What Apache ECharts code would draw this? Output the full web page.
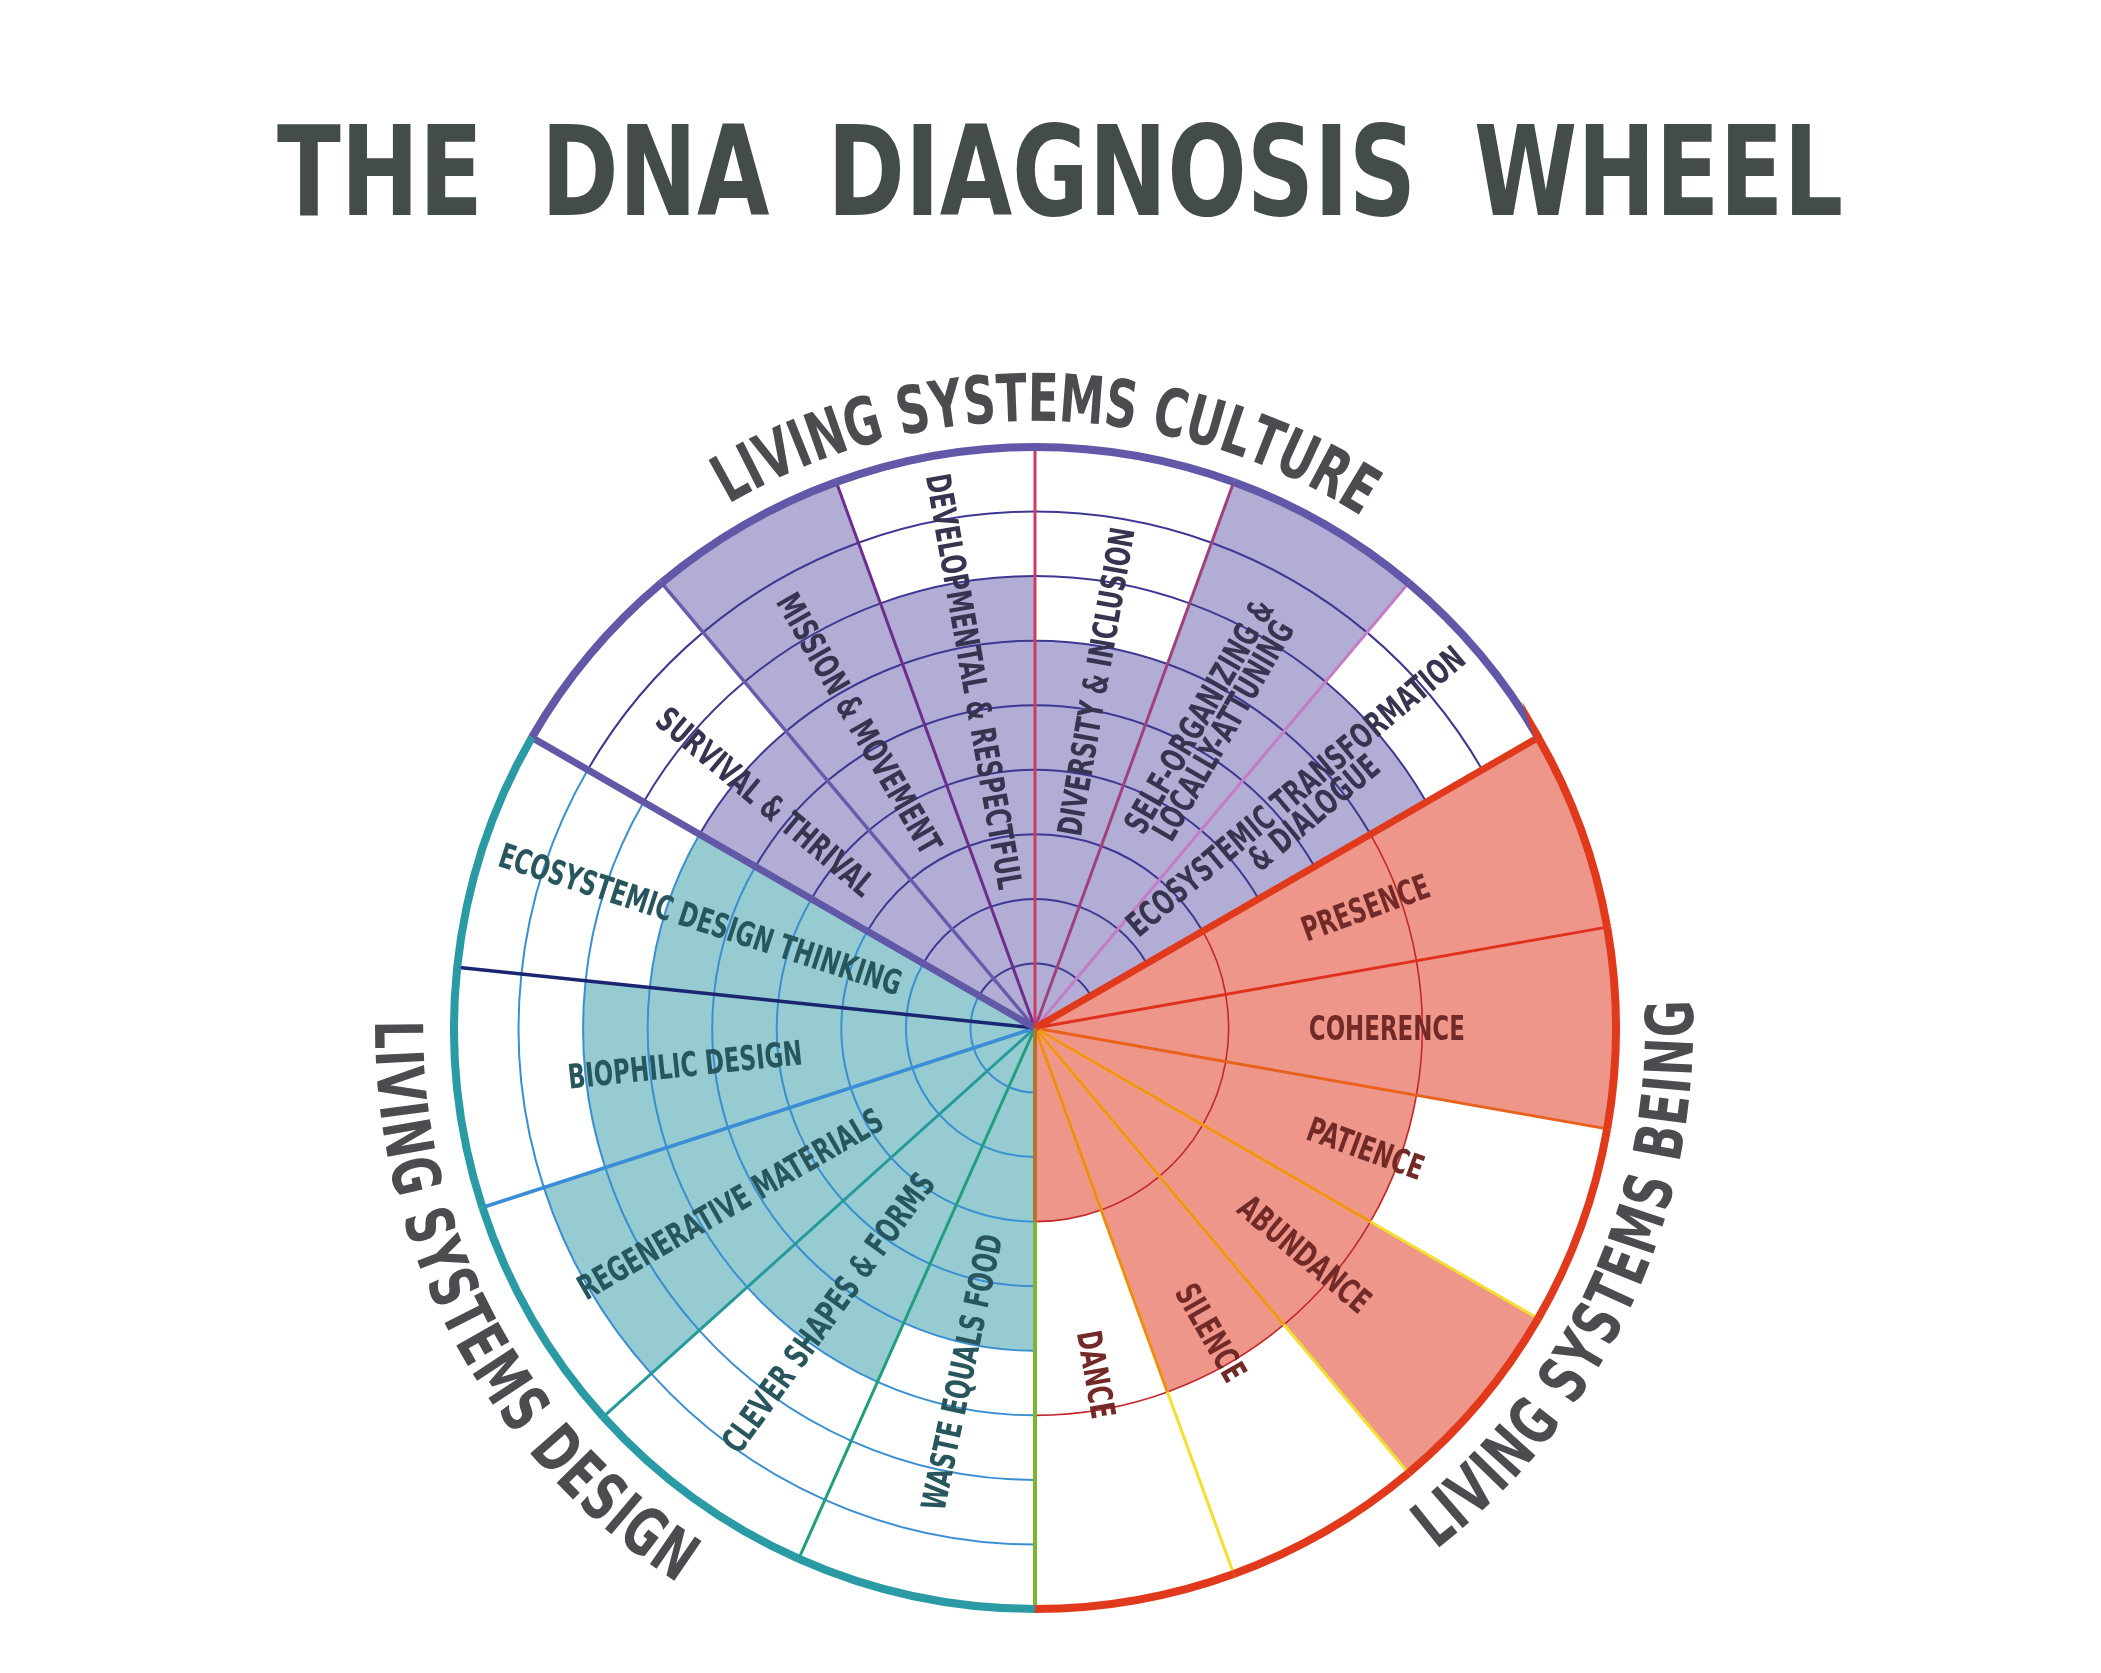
<!DOCTYPE html>
<html>
<head>
<meta charset="utf-8">
<title>The DNA Diagnosis Wheel</title>
<script src="https://cdn.jsdelivr.net/npm/echarts@6/dist/echarts.min.js"></script>
<style>
  html, body { margin: 0; padding: 0; background: #fff; }
  #chart { width: 2101px; height: 1673px; }
</style>
</head>
<body>
<div id="chart"></div>
<script>
const chartTitle = 'THE DNA DIAGNOSIS WHEEL';
const sectionNames = ['LIVING SYSTEMS CULTURE', 'LIVING SYSTEMS BEING', 'LIVING SYSTEMS DESIGN'];

// every list runs clockwise round the wheel
const cultureItems = [
  'SURVIVAL & THRIVAL',
  'MISSION & MOVEMENT',
  'DEVELOPMENTAL & RESPECTFUL',
  'DIVERSITY & INCLUSION',
  'SELF-ORGANIZING &\nLOCALLY-ATTUNING',
  'ECOSYSTEMIC TRANSFORMATION\n& DIALOGUE',
];
const cultureScores = [6, 9, 7, 6, 9, 7];

const beingItems = ['PRESENCE', 'COHERENCE', 'PATIENCE', 'ABUNDANCE', 'SILENCE', 'DANCE'];
const beingScores = [9, 9, 6, 9, 6, 3];

const designItems = [
  'WASTE EQUALS FOOD',
  'CLEVER SHAPES & FORMS',
  'REGENERATIVE MATERIALS',
  'BIOPHILIC DESIGN',
  'ECOSYSTEMIC DESIGN THINKING',
];
const designScores = [5, 6, 8, 7, 6];

const sectionStart = [150, 30, -90]; // angle where each section begins (deg, going clockwise)
const sectionSpan = 120;
const maxScore = 9;

// look
const sectionStyles = [
  {
    fill: '#b1add4', ring: '#3d3892', ringStep: 1, ringWidth: 2, rim: '#6158a8', text: '#36344f',
    edges: [
      { c: '#6158a8', w: 7 }, { c: '#6a5aad', w: 3.5 }, { c: '#6d2d8e', w: 3 },
      { c: '#d03a5e', w: 3 }, { c: '#a0417c', w: 3 }, { c: '#c57cc6', w: 3 },
    ],
  },
  {
    fill: '#ee968a', ring: '#c2282a', ringStep: 3, ringWidth: 1.6, rim: '#e0391c', text: '#722a28',
    edges: [
      { c: '#e0391c', w: 7 }, { c: '#e0301e', w: 3 }, { c: '#e8621c', w: 3 },
      { c: '#f3df2c', w: 3, inner: '#f0921c', innerTo: 6 },
      { c: '#f3df2c', w: 3, inner: '#f0921c', innerTo: 6 },
      { c: '#f3df2c', w: 3, inner: '#ef8a1a', innerTo: 6 },
    ],
  },
  {
    fill: '#96cbd2', ring: '#3a8fd2', ringStep: 1, ringWidth: 2, rim: '#2a9aa4', text: '#28565d',
    edges: [
      { c: '#7cb434', w: 4, inner: '#b5722c', innerTo: 3 }, { c: '#1f9f7c', w: 3 },
      { c: '#249a9a', w: 3 }, { c: '#3b8ed6', w: 3.5 }, { c: '#1b2670', w: 3.5 },
    ],
  },
];
const labelAt = 5.45;

function pickFamily(list) {
  const c = document.createElement('canvas').getContext('2d');
  const probe = 'WHEEL DIAGNOSIS 0123';
  c.font = 'bold 40px monospace';
  const base = c.measureText(probe).width;
  for (const f of list) {
    c.font = `bold 40px "${f}", monospace`;
    if (Math.abs(c.measureText(probe).width - base) > 0.5) return f;
  }
  return 'sans-serif';
}
const family = pickFamily(['Liberation Sans Narrow', 'DejaVu Sans Condensed', 'DejaVu Sans', 'Liberation Sans']);
const measureCtx = document.createElement('canvas').getContext('2d');
function textWidth(str, font) {
  measureCtx.font = font;
  return measureCtx.measureText(str).width;
}

// hand-lettering in the picture is narrow: squeeze the glyphs sideways
const labelSize = 34;
const labelFont = `bold ${labelSize}px "${family}"`;
const labelSqueeze = 156 / textWidth('COHERENCE', labelFont);
const sectionFont = `bold 66px "${family}"`;
const sectionSqueeze = 237 / textWidth('SYSTEMS', sectionFont);
const titleFont = `bold 125px "${family}"`;

// zrender's "middle" sits a little above the cap centre
const lift = (size) => 0.088 * size;

const norm = (a) => ((a % 360) + 360) % 360;

const sections = [
  { items: cultureItems, scores: cultureScores },
  { items: beingItems, scores: beingScores },
  { items: designItems, scores: designScores },
];
const segmentRows = [];
const segmentNames = [];
sections.forEach((sec, s) => {
  const step = sectionSpan / sec.items.length;
  sec.items.forEach((name, i) => {
    const a0 = sectionStart[s] - i * step;
    const a1 = a0 - step;
    segmentRows.push([sec.scores[i], norm(a0 - step / 2), a0, a1, s, i]);
    segmentNames.push(name);
  });
});

function renderSegment(params, api) {
  const score = api.value(0);
  const mid = api.value(1);
  const a0 = api.value(2);
  const a1 = api.value(3);
  const s = api.value(4);
  const i = api.value(5);
  const st = sectionStyles[s];
  const cx = params.coordSys.cx;
  const cy = params.coordSys.cy;
  const pt = (r, a) => api.coord([r, norm(a)]);
  const radiusOf = (r) => {
    const p = pt(r, mid);
    return Math.hypot(p[0] - cx, p[1] - cy);
  };
  const angleOf = (a) => {
    const p = pt(maxScore, a);
    return Math.atan2(p[1] - cy, p[0] - cx);
  };
  const sa = angleOf(a0);
  let ea = angleOf(a1);
  if (ea <= sa) ea += Math.PI * 2;
  const R = radiusOf(maxScore);
  const children = [];

  children.push({
    type: 'sector', z2: 1,
    shape: { cx, cy, r0: 0, r: radiusOf(score), startAngle: sa, endAngle: ea, clockwise: true },
    style: { fill: st.fill },
  });
  for (let k = st.ringStep; k < maxScore; k += st.ringStep) {
    children.push({
      type: 'arc', z2: 2,
      shape: { cx, cy, r: radiusOf(k), startAngle: sa, endAngle: ea, clockwise: true },
      style: { stroke: st.ring, lineWidth: st.ringWidth, fill: null },
    });
  }
  const e = st.edges[i];
  const pe = pt(maxScore, a0);
  children.push({
    type: 'line', z2: i === 0 ? 5 : 3,
    shape: { x1: cx, y1: cy, x2: pe[0], y2: pe[1] },
    style: { stroke: e.c, lineWidth: e.w },
  });
  if (e.inner) {
    const pi = pt(e.innerTo, a0);
    children.push({
      type: 'line', z2: i === 0 ? 5.5 : 4,
      shape: { x1: cx, y1: cy, x2: pi[0], y2: pi[1] },
      style: { stroke: e.inner, lineWidth: e.w },
    });
  }
  children.push({
    type: 'arc', z2: 6,
    shape: { cx, cy, r: R, startAngle: sa, endAngle: ea, clockwise: true },
    style: { stroke: st.rim, lineWidth: 8, fill: null },
  });

  const lp = pt(labelAt, mid);
  const rot = ((mid > 90 && mid < 270 ? mid - 180 : mid >= 270 ? mid - 360 : mid) * Math.PI) / 180;
  const d = lift(labelSize);
  children.push({
    type: 'text', z2: 7,
    x: lp[0] + d * Math.sin(rot), y: lp[1] + d * Math.cos(rot),
    rotation: rot, scaleX: labelSqueeze,
    style: {
      text: segmentNames[params.dataIndex],
      fill: st.text,
      font: labelFont,
      lineHeight: 28,
      align: 'center', verticalAlign: 'middle',
      textAlign: 'center', textVerticalAlign: 'middle',
    },
  });
  return { type: 'group', children };
}

// wheel geometry on the page
const wheelCenter = [1035, 1028];
const wheelRadius = 581;

// letters of a section name set along the rim
function arcLetters(str, fromDeg, toDeg, radius, font, size, squeeze, color) {
  const ccw = toDeg > fromDeg;
  const chars = str.split('');
  const widths = chars.map((ch) => textWidth(ch, font) * squeeze);
  const total = widths.reduce((a, b) => a + b, 0);
  const arcLen = (Math.abs(toDeg - fromDeg) * Math.PI / 180) * radius;
  const gap = (arcLen - total) / (chars.length - 1);
  const out = [];
  let run = 0;
  chars.forEach((ch, k) => {
    const s = run + widths[k] / 2;
    run += widths[k] + gap;
    const a = (fromDeg * Math.PI) / 180 + (ccw ? 1 : -1) * (s / radius);
    if (ch === ' ') return;
    const rot = ccw ? a + Math.PI / 2 : a - Math.PI / 2;
    const d = lift(size);
    out.push({
      type: 'text',
      x: wheelCenter[0] + radius * Math.cos(a) + d * Math.sin(rot),
      y: wheelCenter[1] - radius * Math.sin(a) + d * Math.cos(rot),
      rotation: rot, scaleX: squeeze,
      style: {
        text: ch, font, fill: color,
        align: 'center', verticalAlign: 'middle',
        textAlign: 'center', textVerticalAlign: 'middle',
      },
    });
  });
  return out;
}

// title: letters squeezed so the words keep their width, word gaps share the rest
function rowLetters(str, left, right, wordGap, y, font, size, color) {
  const chars = str.split('');
  const spaces = chars.filter((c) => c === ' ').length;
  const natural = chars.filter((c) => c !== ' ').reduce((a, c) => a + textWidth(c, font), 0);
  const squeeze = (right - left - spaces * wordGap) / natural;
  const out = [];
  let x = left;
  chars.forEach((ch) => {
    if (ch === ' ') {
      x += wordGap;
      return;
    }
    const w = textWidth(ch, font) * squeeze;
    out.push({
      type: 'text', x: x + w / 2, y: y + lift(size), scaleX: squeeze,
      style: {
        text: ch, font, fill: color,
        align: 'center', verticalAlign: 'middle',
        textAlign: 'center', textVerticalAlign: 'middle',
      },
    });
    x += w;
  });
  return out;
}

const sectionColor = '#4a4c50';
const graphics = [
  ...rowLetters(chartTitle, 277, 1843, 58, 172, titleFont, 125, '#434b4b'),
  ...arcLetters(sectionNames[0], 120.3, 57.5, 630, sectionFont, 66, sectionSqueeze, sectionColor),
  ...arcLetters(sectionNames[1], -52.5, 2.5, 635, sectionFont, 66, sectionSqueeze, sectionColor),
  ...arcLetters(sectionNames[2], 179.3, 237.3, 637, sectionFont, 66, sectionSqueeze, sectionColor),
];

const chart = echarts.init(document.getElementById('chart'), null, { renderer: 'canvas' });
chart.setOption({
  animation: false,
  backgroundColor: '#ffffff',
  polar: { center: wheelCenter, radius: wheelRadius },
  angleAxis: { type: 'value', min: 0, max: 360, startAngle: 0, clockwise: false, show: false },
  radiusAxis: { type: 'value', min: 0, max: maxScore, show: false },
  graphic: { elements: graphics },
  series: [
    {
      type: 'custom',
      coordinateSystem: 'polar',
      data: segmentRows,
      encode: { radius: 0, angle: 1 },
      renderItem: renderSegment,
      silent: true,
    },
  ],
});
</script>
</body>
</html>
